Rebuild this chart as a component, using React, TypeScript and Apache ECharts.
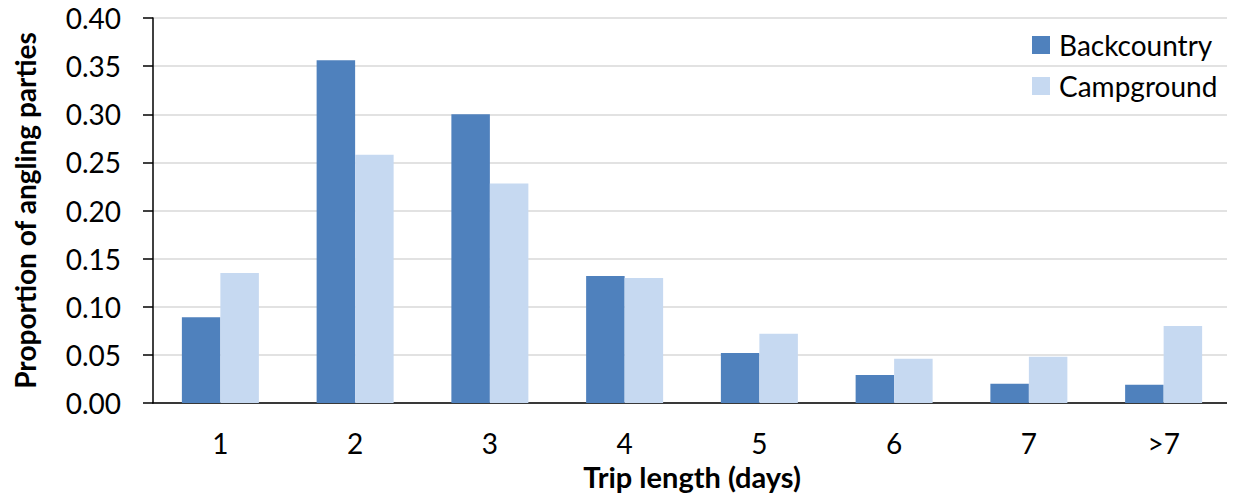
import React, { useEffect, useRef } from "react";
import * as echarts from "echarts";

const categories = ["1", "2", "3", "4", "5", "6", "7", ">7"];
const backcountry = [0.089, 0.356, 0.3, 0.132, 0.052, 0.029, 0.02, 0.019];
const campground = [0.135, 0.258, 0.228, 0.13, 0.072, 0.046, 0.048, 0.08];

const FONT = "Lato, 'Open Sans', sans-serif";

export default function App() {
  const ref = useRef<HTMLDivElement>(null);

  useEffect(() => {
    if (!ref.current) return;
    const chart = echarts.init(ref.current, undefined, { renderer: "svg" });
    chart.setOption({
      animation: false,
      textStyle: { fontFamily: FONT },
      grid: { left: 153, right: 4, top: 18, bottom: 92 },
      legend: {
        orient: "vertical",
        left: 1027,
        top: 26,
        itemWidth: 18,
        itemHeight: 18,
        itemGap: 13,
        icon: "rect",
        textStyle: { fontSize: 28, color: "#000", fontFamily: FONT, padding: [0, 0, 0, 4] },
        data: ["Backcountry", "Campground"],
      },
      xAxis: {
        type: "category",
        data: categories,
        axisLine: { lineStyle: { color: "#000", width: 1.5 } },
        axisTick: { show: false },
        axisLabel: { fontSize: 28, color: "#000", margin: 26, fontFamily: FONT },
        name: "Trip length (days)",
        nameLocation: "middle",
        nameGap: 59,
        nameTextStyle: { fontSize: 29, fontWeight: "bold", color: "#000", fontFamily: FONT },
      },
      yAxis: {
        type: "value",
        min: 0,
        max: 0.4,
        interval: 0.05,
        axisLine: { show: true, lineStyle: { color: "#000", width: 1.5 } },
        axisTick: { show: true, length: 10, lineStyle: { color: "#000", width: 1.5 } },
        axisLabel: {
          fontSize: 28,
          color: "#000",
          margin: 32,
          fontFamily: FONT,
          formatter: (v: number) => v.toFixed(2),
        },
        splitLine: { lineStyle: { color: "#D9D9D9", width: 1.5 } },
        name: "Proportion of angling parties",
        nameLocation: "middle",
        nameGap: 114,
        nameRotate: 90,
        nameTextStyle: { fontSize: 28, fontWeight: "bold", color: "#000", fontFamily: FONT },
      },
      series: [
        {
          name: "Backcountry",
          type: "bar",
          data: backcountry,
          barWidth: 38.5,
          barGap: "0%",
          itemStyle: { color: "#4F81BD" },
        },
        {
          name: "Campground",
          type: "bar",
          data: campground,
          barWidth: 38.5,
          barGap: "0%",
          itemStyle: { color: "#C6D9F1" },
        },
      ],
    });
    return () => chart.dispose();
  }, []);

  return <div ref={ref} style={{ width: 1235, height: 496, marginLeft: -8, marginTop: -8 }} />;
}
